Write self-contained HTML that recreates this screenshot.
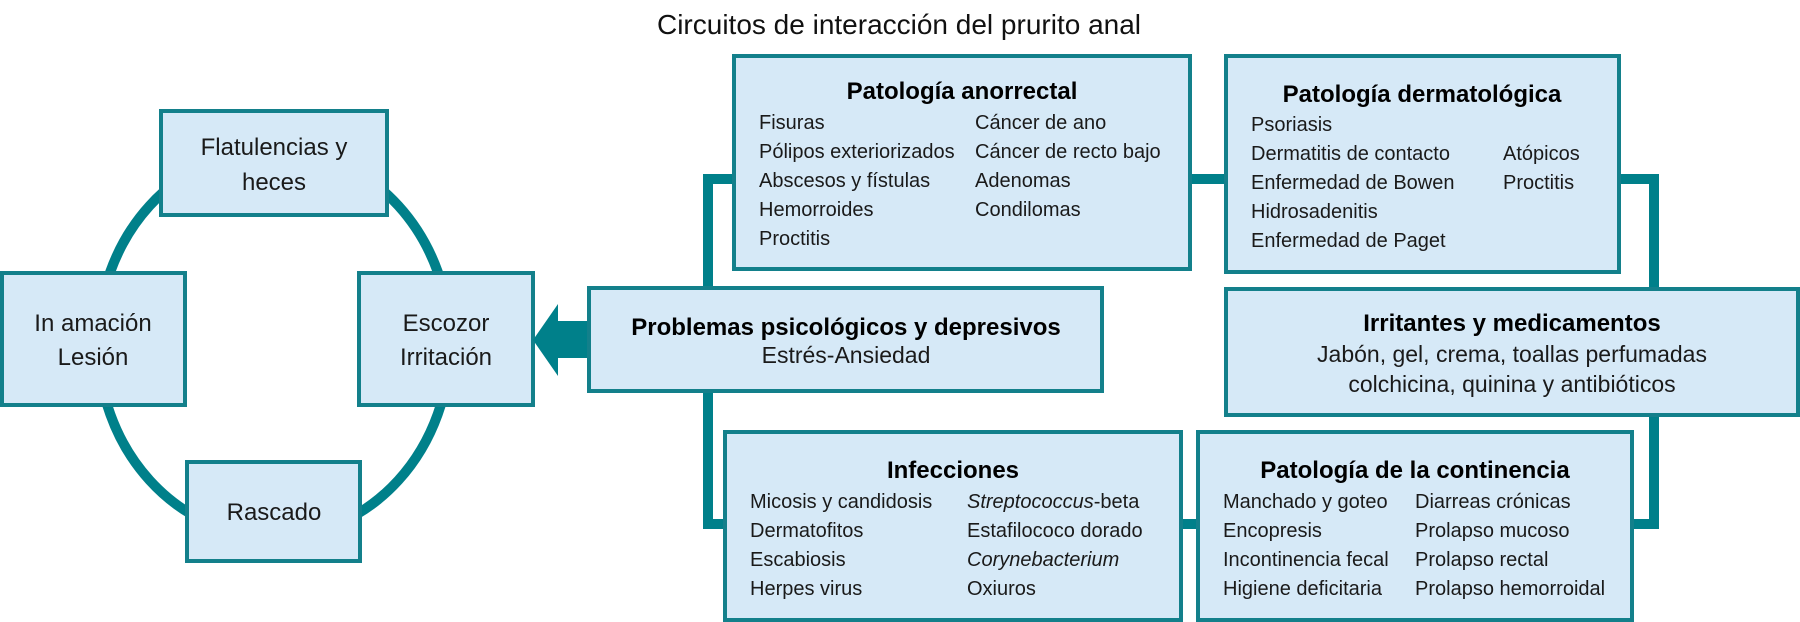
<!DOCTYPE html>
<html><head><meta charset="utf-8"><style>
html,body{margin:0;padding:0;background:#fff;}
svg{display:block;font-family:"Liberation Sans",Arial,sans-serif;}
.b{fill:#d6e9f7;stroke:#13808b;stroke-width:4;}
.c{fill:#00808a;}
.h{font-weight:bold;font-size:24px;fill:#000;text-anchor:middle;}
.l{font-size:20px;fill:#1a1a1a;}
.m{font-size:23px;fill:#1a1a1a;text-anchor:middle;}
.k{font-size:24px;fill:#1a1a1a;text-anchor:middle;}
</style></head><body>
<svg width="1800" height="622" viewBox="0 0 1800 622" xmlns="http://www.w3.org/2000/svg">
<text x="899" y="34" font-size="28" text-anchor="middle" fill="#111">Circuitos de interacción del prurito anal</text>

<!-- ring -->
<ellipse cx="274" cy="343" rx="176" ry="194" fill="none" stroke="#00808a" stroke-width="10"/>
<rect class="b" x="161" y="111" width="226" height="104"/>
<rect class="b" x="2" y="273" width="183" height="132"/>
<rect class="b" x="359" y="273" width="174" height="132"/>
<rect class="b" x="187" y="462" width="173" height="99"/>
<text class="k" x="274" y="155">Flatulencias y</text>
<text class="k" x="274" y="190">heces</text>
<text class="k" x="93" y="331">In  amación</text>
<text class="k" x="93" y="365">Lesión</text>
<text class="k" x="446" y="331">Escozor</text>
<text class="k" x="446" y="365">Irritación</text>
<text class="k" x="274" y="520">Rascado</text>

<!-- arrow -->
<polygon class="c" points="533,340 558,304 558,321 592,321 592,358 558,358 558,376"/>

<!-- connectors -->
<rect class="c" x="703" y="174" width="34" height="10"/>
<rect class="c" x="703" y="174" width="10" height="116"/>
<rect class="c" x="703" y="389" width="10" height="140"/>
<rect class="c" x="703" y="519" width="26" height="10"/>
<rect class="c" x="1188" y="174" width="40" height="10"/>
<rect class="c" x="1617" y="174" width="42" height="10"/>
<rect class="c" x="1649" y="174" width="10" height="117"/>
<rect class="c" x="1649" y="413" width="10" height="116"/>
<rect class="c" x="1630" y="519" width="29" height="10"/>
<rect class="c" x="1179" y="519" width="21" height="10"/>

<!-- Patología anorrectal -->
<rect class="b" x="734" y="56" width="456" height="213"/>
<text class="h" x="962" y="99">Patología anorrectal</text>
<g class="l">
<text x="759" y="129">Fisuras</text>
<text x="759" y="158">Pólipos exteriorizados</text>
<text x="759" y="187">Abscesos y fístulas</text>
<text x="759" y="216">Hemorroides</text>
<text x="759" y="245">Proctitis</text>
<text x="975" y="129">Cáncer de ano</text>
<text x="975" y="158">Cáncer de recto bajo</text>
<text x="975" y="187">Adenomas</text>
<text x="975" y="216">Condilomas</text>
</g>

<!-- Patología dermatológica -->
<rect class="b" x="1226" y="56" width="393" height="216"/>
<text class="h" x="1422" y="102">Patología dermatológica</text>
<g class="l">
<text x="1251" y="131">Psoriasis</text>
<text x="1251" y="160">Dermatitis de contacto</text>
<text x="1251" y="189">Enfermedad de Bowen</text>
<text x="1251" y="218">Hidrosadenitis</text>
<text x="1251" y="247">Enfermedad de Paget</text>
<text x="1503" y="160">Atópicos</text>
<text x="1503" y="189">Proctitis</text>
</g>

<!-- Problemas -->
<rect class="b" x="589" y="288" width="513" height="103"/>
<text class="h" x="846" y="335" font-size="24.5">Problemas psicológicos y depresivos</text>
<text class="m" x="846" y="363" font-size="23.5">Estrés-Ansiedad</text>

<!-- Irritantes -->
<rect class="b" x="1226" y="289" width="572" height="126"/>
<text class="h" x="1512" y="331">Irritantes y medicamentos</text>
<text class="m" x="1512" y="362" font-size="25.5">Jabón, gel, crema, toallas perfumadas</text>
<text class="m" x="1512" y="392" font-size="25.5">colchicina, quinina y antibióticos</text>

<!-- Infecciones -->
<rect class="b" x="725" y="432" width="456" height="188"/>
<text class="h" x="953" y="478">Infecciones</text>
<g class="l">
<text x="750" y="508">Micosis y candidosis</text>
<text x="750" y="537">Dermatofitos</text>
<text x="750" y="566">Escabiosis</text>
<text x="750" y="595">Herpes virus</text>
<text x="967" y="508"><tspan font-style="italic">Streptococcus</tspan>-beta</text>
<text x="967" y="537">Estafilococo dorado</text>
<text x="967" y="566" font-style="italic">Corynebacterium</text>
<text x="967" y="595">Oxiuros</text>
</g>

<!-- Continencia -->
<rect class="b" x="1198" y="432" width="434" height="188"/>
<text class="h" x="1415" y="478">Patología de la continencia</text>
<g class="l">
<text x="1223" y="508">Manchado y goteo</text>
<text x="1223" y="537">Encopresis</text>
<text x="1223" y="566">Incontinencia fecal</text>
<text x="1223" y="595">Higiene deficitaria</text>
<text x="1415" y="508">Diarreas crónicas</text>
<text x="1415" y="537">Prolapso mucoso</text>
<text x="1415" y="566">Prolapso rectal</text>
<text x="1415" y="595">Prolapso hemorroidal</text>
</g>
</svg>
</body></html>
